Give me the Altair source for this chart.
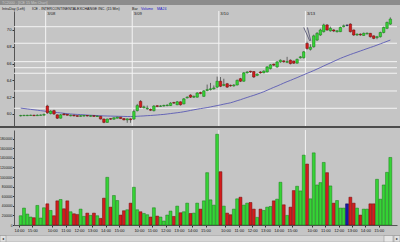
import json
import altair as alt
import pandas as pd

# ---------------- data ----------------
opens = [59.78, 59.80, 59.80, 59.82, 59.86, 59.80, 59.84, 59.86,
         60.95, 60.05, 60.40, 59.90, 59.50, 60.00, 59.95, 59.78, 59.86, 59.80, 59.72, 59.75, 59.82, 59.72, 59.80, 59.70, 59.72, 59.40, 59.00, 59.45, 59.38, 59.50, 59.62, 59.45, 59.30, 59.42,
         59.40, 60.40, 61.50, 60.75, 60.62, 60.55, 60.40, 60.98, 60.90, 60.95, 61.00, 61.00, 61.36, 61.10, 61.45, 61.20, 61.92, 62.25, 62.00, 62.00, 62.55, 62.10, 62.80, 62.90, 63.00, 63.20,
         63.90, 63.40, 63.60, 63.42, 63.35, 63.45, 64.20, 63.90, 64.90, 65.08, 65.05, 64.60, 65.00, 64.90, 65.00, 65.40, 65.92, 65.60, 66.20, 66.32, 66.15, 66.40, 66.30, 66.05, 66.70, 66.70,
         68.40, 67.70, 68.00, 68.80, 69.40, 69.80, 70.60, 69.90, 70.00, 69.80, 69.80, 70.40, 70.55, 70.70, 70.00, 69.40, 69.50, 69.35, 69.55, 69.60, 69.30, 69.10, 69.20, 69.70, 70.20, 70.70]
closes = [59.82, 59.84, 59.85, 59.86, 59.80, 59.86, 59.88, 59.95,
          60.15, 60.35, 60.00, 59.50, 59.90, 59.90, 59.85, 59.86, 59.78, 59.72, 59.80, 59.82, 59.76, 59.80, 59.72, 59.76, 59.40, 59.00, 59.40, 59.38, 59.55, 59.62, 59.45, 59.30, 59.42, 59.32,
          60.30, 61.00, 60.80, 60.85, 60.70, 60.45, 60.95, 60.90, 60.96, 61.02, 61.06, 61.30, 61.30, 61.45, 61.10, 61.80, 62.00, 62.00, 62.10, 62.50, 62.45, 62.75, 62.90, 63.00, 63.10, 63.90,
          63.30, 63.50, 63.20, 63.35, 63.45, 64.00, 63.90, 64.90, 65.00, 65.00, 64.40, 64.75, 64.90, 65.10, 65.60, 65.85, 65.82, 66.20, 66.40, 66.22, 66.25, 66.00, 66.05, 66.50, 66.80, 67.40,
          67.80, 67.95, 69.30, 69.60, 70.00, 70.60, 70.00, 70.20, 69.88, 69.90, 70.30, 70.50, 70.55, 69.80, 69.40, 69.50, 69.42, 69.60, 69.62, 69.20, 69.00, 69.20, 69.70, 70.30, 70.90, 71.30]
highs = [59.90, 59.90, 59.90, 59.92, 59.90, 59.95, 59.95, 60.05,
         61.10, 60.45, 60.50, 59.95, 60.00, 60.10, 60.00, 59.92, 59.90, 59.85, 59.86, 59.88, 59.88, 59.86, 59.85, 59.82, 59.78, 59.45, 59.45, 59.50, 59.60, 59.68, 59.66, 59.50, 59.48, 59.48,
         60.50, 61.20, 61.65, 61.00, 61.00, 60.65, 61.05, 61.05, 61.05, 61.10, 61.15, 61.40, 61.45, 61.55, 61.50, 61.90, 62.10, 62.35, 62.20, 62.60, 62.65, 62.85, 63.50, 63.70, 63.40, 64.45,
         64.40, 64.20, 63.70, 63.50, 63.55, 64.10, 64.30, 65.00, 65.10, 65.15, 65.10, 64.85, 65.10, 65.20, 65.70, 65.95, 66.00, 66.30, 66.50, 66.40, 66.80, 66.50, 66.35, 66.60, 66.90, 67.50,
         68.60, 68.30, 69.45, 69.75, 70.15, 70.75, 70.70, 70.40, 70.10, 70.00, 70.40, 70.65, 70.70, 70.80, 70.05, 69.60, 69.60, 69.70, 69.70, 69.65, 69.35, 69.30, 69.80, 70.40, 71.00, 71.50]
lows = [59.70, 59.75, 59.75, 59.78, 59.75, 59.76, 59.80, 59.80,
        60.00, 59.95, 59.90, 59.40, 59.45, 59.85, 59.80, 59.72, 59.72, 59.66, 59.68, 59.70, 59.70, 59.68, 59.65, 59.65, 59.35, 58.90, 58.95, 59.30, 59.32, 59.45, 59.40, 59.25, 58.95, 58.95,
        59.30, 60.30, 60.70, 60.65, 60.50, 60.35, 60.30, 60.82, 60.85, 60.88, 60.92, 60.95, 61.20, 61.05, 61.00, 61.15, 61.85, 61.90, 61.90, 61.95, 62.35, 62.05, 62.70, 62.80, 62.90, 63.10,
        63.20, 63.30, 63.10, 63.25, 63.25, 63.40, 63.80, 63.85, 64.80, 64.90, 64.30, 64.50, 64.80, 64.85, 64.95, 65.30, 65.70, 65.50, 66.10, 66.10, 66.05, 65.90, 65.95, 66.00, 66.60, 66.60,
        67.65, 67.55, 67.90, 68.70, 69.30, 69.70, 69.90, 69.80, 69.75, 69.70, 69.75, 70.30, 70.40, 69.70, 69.30, 69.30, 69.30, 69.30, 69.45, 69.10, 68.90, 68.90, 69.10, 69.60, 70.10, 70.60]
volumes_k = [193, 352, 228, 166, 152, 407, 145, 359,
             441, 303, 193, 503, 531, 338, 503, 276, 234, 221, 331, 180, 248, 200, 248, 193, 138, 559, 993, 372, 614, 510, 207, 297, 317, 455,
             786, 317, 276, 241, 214, 166, 359, 186, 166, 83, 207, 290, 179, 393, 255, 276, 455, 241, 248, 455, 331, 503, 1090, 524, 414, 1890,
             1110, 393, 248, 214, 331, 545, 579, 414, 455, 469, 331, 159, 331, 303, 372, 386, 503, 538, 890, 421, 200, 372, 717, 807, 710, 1455,
             1270, 545, 1503, 834, 883, 1303, 1090, 814, 455, 510, 352, 352, 441, 579, 455, 352, 207, 331, 331, 441, 441, 952, 538, 834, 1097, 1407]
ma24 = [60.70, 60.65, 60.60, 60.55, 60.50, 60.45, 60.40, 60.35,
        60.30, 60.26, 60.22, 60.17, 60.13, 60.08, 60.04, 60.00, 59.97, 59.95, 59.93, 59.90, 59.87, 59.85, 59.83, 59.81, 59.79, 59.77, 59.76, 59.75, 59.74, 59.73, 59.72, 59.71, 59.70, 59.70,
        59.71, 59.73, 59.75, 59.77, 59.80, 59.82, 59.85, 59.88, 59.92, 59.95, 60.00, 60.05, 60.10, 60.15, 60.20, 60.27, 60.34, 60.42, 60.50, 60.57, 60.64, 60.70, 60.76, 60.84, 60.92, 61.00,
        61.08, 61.17, 61.25, 61.33, 61.45, 61.58, 61.70, 61.84, 61.97, 62.10, 62.22, 62.36, 62.50, 62.65, 62.82, 63.00, 63.17, 63.33, 63.50, 63.68, 63.85, 64.00, 64.17, 64.33, 64.50, 64.67,
        64.84, 65.00, 65.17, 65.35, 65.53, 65.72, 65.90, 66.08, 66.26, 66.44, 66.62, 66.78, 66.93, 67.08, 67.22, 67.36, 67.50, 67.64, 67.78, 67.92, 68.05, 68.20, 68.35, 68.50, 68.65, 68.80]

price_levels = [70.39, 68.42, 66.23, 65.51, 64.85, 62.74, 60.68]
price_ticks = [60, 62, 64, 66, 68, 70]
volume_ticks = [0, 200000, 400000, 600000, 800000, 1000000, 1200000, 1400000, 1600000, 1800000]
day_bounds = [7.5, 33.5, 59.5, 85.5]
day_labels = ["3/08", "3/09", "3/10", "3/13"]
hour_pos = [-0.5, 3.5,
            9.5, 13.5, 17.5, 21.5, 25.5, 29.5,
            35.5, 39.5, 43.5, 47.5, 51.5, 55.5,
            61.5, 65.5, 69.5, 73.5, 77.5, 81.5,
            87.5, 91.5, 95.5, 99.5, 103.5, 107.5]
hour_labels = ["14:00", "15:00",
               "10:00", "11:00", "12:00", "13:00", "14:00", "15:00",
               "10:00", "11:00", "12:00", "13:00", "14:00", "15:00",
               "10:00", "11:00", "12:00", "13:00", "14:00", "15:00",
               "10:00", "11:00", "12:00", "13:00", "14:00", "15:00"]
annot_bar = [85.0, 86.8, 86.1, 87.1]
annot_price = [70.3, 68.7, 70.3, 68.7]
annot_id = [1, 1, 2, 2]

# ---------------- tables ----------------
N = len(opens)
df = pd.DataFrame({"bar": list(range(N)), "open": opens, "close": closes,
                   "high": highs, "low": lows, "volume": [v * 1000 for v in volumes_k],
                   "ma": ma24})
df["dir"] = ["up" if c > o else ("down" if c < o else "flat") for o, c in zip(opens, closes)]
lv_df = pd.DataFrame({"p": price_levels})
day_df = pd.DataFrame({"b": day_bounds, "lab": day_labels})
ann_df = pd.DataFrame({"b": annot_bar, "p": annot_price, "id": annot_id})
one = pd.DataFrame({"k": [0]})

FONT = "Liberation Sans"
BG = "#c5c5c5"
W = 383
HP, HV = 115, 95

dir_fill = alt.Scale(domain=["up", "down", "flat"], range=["#36d436", "#d41c1c", "#1818a8"])
dir_stroke = alt.Scale(domain=["up", "down", "flat"], range=["#177a17", "#6a0c0c", "#0a0a55"])
xscale = alt.Scale(domain=[-0.5, N - 0.5], nice=False, zero=False)
pscale = alt.Scale(domain=[58.57, 72.26], nice=False, zero=False)
vscale = alt.Scale(domain=[0, 1979000], nice=False, zero=False)

yaxis_p = alt.Axis(values=price_ticks, title=None, grid=False, labelFontSize=4.2,
                   labelColor="#111", tickSize=2, tickColor="#333", domainColor="#555",
                   labelPadding=1, labelFont=FONT)
xnone = alt.X("bar:Q", scale=xscale, axis=None)

base = alt.Chart(df)

levels = alt.Chart(lv_df).mark_rule(color="#f4f4f4", strokeWidth=1).encode(
    y=alt.Y("p:Q", scale=pscale, axis=yaxis_p))
vlines_p = alt.Chart(day_df).mark_rule(color="#f4f4f4", strokeWidth=1).encode(
    x=alt.X("b:Q", scale=xscale, axis=None))
ma_line = base.mark_line(color="#5a5ab4", strokeWidth=0.9).encode(
    x=xnone, y=alt.Y("ma:Q", scale=pscale, axis=yaxis_p))
wicks = base.mark_rule(color="#222222", strokeWidth=0.6).encode(
    x=xnone, y=alt.Y("low:Q", scale=pscale, axis=yaxis_p), y2="high:Q")
bodies = base.mark_bar(size=2.5, strokeWidth=0.5).encode(
    x=xnone, y=alt.Y("open:Q", scale=pscale, axis=yaxis_p), y2="close:Q",
    color=alt.Color("dir:N", scale=dir_fill, legend=None),
    stroke=alt.Stroke("dir:N", scale=dir_stroke, legend=None))
day_text = alt.Chart(day_df).mark_text(align="left", baseline="top", fontSize=4.2, dx=1.5,
                                       color="#222", font=FONT).encode(
    x=alt.X("b:Q", scale=xscale, axis=None), y=alt.value(0.8), text="lab:N")
annot = alt.Chart(ann_df).mark_line(color="#3a3a5e", strokeWidth=0.7).encode(
    x=alt.X("b:Q", scale=xscale, axis=None), y=alt.Y("p:Q", scale=pscale, axis=yaxis_p),
    detail="id:N")

titlebar = alt.Chart(one).mark_rect(color="#8c8c8c").encode(
    x=alt.value(-14), x2=alt.value(386), y=alt.value(-11), y2=alt.value(-6))
titletxt = alt.Chart(one).mark_text(text="TC2000 - [ICE 15 Min Chart]", align="left", baseline="middle",
                                    fontSize=3.6, color="#c8c8c8", font=FONT).encode(
    x=alt.value(-12), y=alt.value(-8.5))
hdr = []
for txt, px, col in [("IntraDay (Left)", 2, "#111"),
                     ("ICE - INTERCONTINENTALEXCHANGE INC. (15 Min)", 32, "#111"),
                     ("Bar", 132, "#111"),
                     ("Volume", 141, "#2020c8"),
                     ("MA24", 157, "#2020c8")]:
    hdr.append(alt.Chart(one).mark_text(text=txt, align="left", baseline="alphabetic",
                                        fontSize=3.6, color=col, font=FONT).encode(
        x=alt.value(px - 14), y=alt.value(-1.5)))

price = alt.layer(levels, vlines_p, ma_line, wicks, bodies, annot, day_text,
                  titlebar, titletxt, *hdr).properties(width=W, height=HP)

# volume panel
xaxis_v = alt.Axis(values=hour_pos, title=None, grid=False, labelFontSize=4, labelColor="#111",
                   tickSize=2, tickColor="#333", domainColor="#555", labelPadding=1.5,
                   labelFont=FONT, labelOverlap=False, labelFlush=False,
                   labelExpr=f"{json.dumps(hour_labels)}[indexof({json.dumps(hour_pos)}, datum.value)]")
yaxis_v = alt.Axis(values=volume_ticks, format="d", title=None, grid=False, labelFontSize=3.2,
                   labelColor="#111", tickSize=1.5, tickColor="#333", domainColor="#555",
                   labelPadding=0.5, labelFont=FONT)

vlines_v = alt.Chart(day_df).mark_rule(color="#f4f4f4", strokeWidth=1).encode(
    x=alt.X("b:Q", scale=xscale, axis=xaxis_v))
vbars = base.mark_bar(size=2.9, strokeWidth=0.5).encode(
    x=alt.X("bar:Q", scale=xscale, axis=xaxis_v),
    y=alt.Y("volume:Q", scale=vscale, axis=yaxis_v),
    color=alt.Color("dir:N", scale=dir_fill, legend=None),
    stroke=alt.Stroke("dir:N", scale=dir_stroke, legend=None))
sep = alt.Chart(one).mark_rule(color="#4c4c4c", strokeWidth=2).encode(
    x=alt.value(-14), x2=alt.value(386), y=alt.value(-3))
scroll = alt.Chart(one).mark_rect(color="#d6d6d6", stroke="#9a9a9a", strokeWidth=0.5).encode(
    x=alt.value(-14), x2=alt.value(386), y=alt.value(105.5), y2=alt.value(112))
btn_l = alt.Chart(one).mark_rect(color="#e2e2e2", stroke="#888", strokeWidth=0.5).encode(
    x=alt.value(-14), x2=alt.value(-8), y=alt.value(105.5), y2=alt.value(112))
btn_r = alt.Chart(one).mark_rect(color="#e2e2e2", stroke="#888", strokeWidth=0.5).encode(
    x=alt.value(380), x2=alt.value(386), y=alt.value(105.5), y2=alt.value(112))
thumb = alt.Chart(one).mark_rect(color="#e6e6e6", stroke="#888", strokeWidth=0.5).encode(
    x=alt.value(370), x2=alt.value(379), y=alt.value(105.5), y2=alt.value(112))
arr_l = alt.Chart(one).mark_text(text="◂", fontSize=4, color="#222").encode(
    x=alt.value(-11), y=alt.value(109))
arr_r = alt.Chart(one).mark_text(text="▸", fontSize=4, color="#222").encode(
    x=alt.value(383), y=alt.value(109))

volume = alt.layer(vlines_v, vbars, sep, scroll, btn_l, btn_r, thumb, arr_l, arr_r).properties(
    width=W, height=HV)

chart = alt.vconcat(price, volume, spacing=4, bounds="flush").properties(
    autosize=alt.AutoSizeParams(type="none"),
    padding={"left": 14, "top": 11, "right": 3, "bottom": 231},
).configure(background=BG, font=FONT).configure_view(stroke=None, fill=BG)

chart.save("out.html", embed_options={"renderer": "svg", "actions": False})
